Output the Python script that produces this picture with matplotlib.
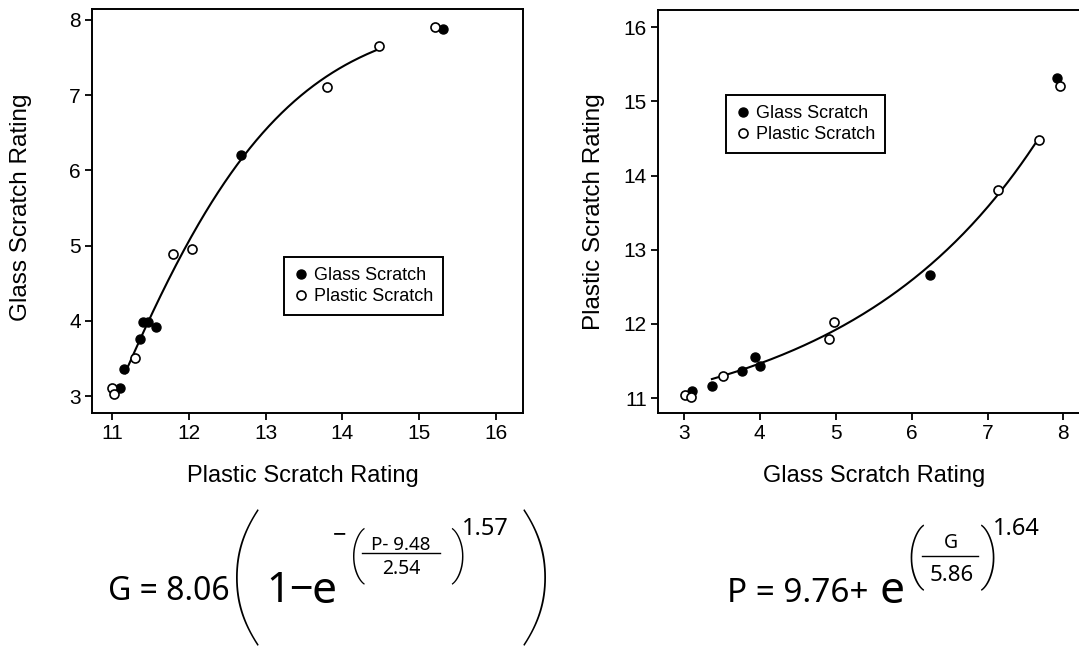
import numpy as np
import matplotlib
matplotlib.use("Agg")
import matplotlib.pyplot as plt
from matplotlib.lines import Line2D

plt.rcParams['font.family'] = ['Liberation Sans', 'DejaVu Sans']

# ---- data ----
# left panel: Glass rating (y) vs Plastic rating (x)
left_glass_x = [15.31, 12.68, 11.41, 11.47, 11.57, 11.36, 11.16, 11.10]
left_glass_y = [7.88, 6.21, 3.99, 3.99, 3.92, 3.76, 3.36, 3.10]
left_plastic_x = [15.21, 14.47, 13.80, 12.04, 11.79, 11.30, 11.00, 11.03]
left_plastic_y = [7.91, 7.65, 7.11, 4.96, 4.89, 3.50, 3.10, 3.03]

# right panel: Plastic rating (y) vs Glass rating (x)
right_glass_x = [7.92, 6.24, 3.94, 4.00, 3.77, 3.37, 3.11]
right_glass_y = [15.31, 12.66, 11.56, 11.44, 11.37, 11.17, 11.10]
right_plastic_x = [7.95, 7.68, 7.14, 4.98, 4.91, 3.51, 3.02, 3.10]
right_plastic_y = [15.20, 14.48, 13.81, 12.03, 11.80, 11.30, 11.04, 11.01]

# fitted curves (parameters from the printed equations)
g_scale, p_shift, p_div, g_pow = 8.06, 9.48, 2.54, 1.57
p_off, g_div, p_pow = 9.76, 5.86, 1.64
left_fit_range = (11.17, 14.47)
right_fit_range = (3.37, 7.68)

W, H = 1079, 660
fig = plt.figure(figsize=(W / 100, H / 100), dpi=100)


def fx(x):
    return x / W


def fy(y):
    return 1 - y / H


ax1 = fig.add_axes([fx(92), fy(413), (523 - 92) / W, (413 - 9) / H])
ax2 = fig.add_axes([fx(658), fy(413), (1090 - 658) / W, (413 - 10) / H])

pp = np.linspace(*left_fit_range, 200)
ax1.plot(pp, g_scale * (1 - np.exp(-((pp - p_shift) / p_div) ** g_pow)),
         color='black', lw=1.5, zorder=2)
gg = np.linspace(*right_fit_range, 200)
ax2.plot(gg, p_off + np.exp((gg / g_div) ** p_pow), color='black', lw=1.5, zorder=2)

for ax, gx, gy, px_, py_ in [(ax1, left_glass_x, left_glass_y, left_plastic_x, left_plastic_y),
                             (ax2, right_glass_x, right_glass_y, right_plastic_x, right_plastic_y)]:
    ax.plot(gx, gy, 'o', ms=6.5, mfc='black', mec='black', ls='none',
            label='Glass Scratch', zorder=3)
    ax.plot(px_, py_, 'o', ms=6.5, mfc='white', mec='black', mew=1.2, ls='none',
            label='Plastic Scratch', zorder=4)
    for s in ax.spines.values():
        s.set_linewidth(1.4)
    ax.tick_params(direction='out', length=5, width=1.3, labelsize=15, pad=3,
                   top=False, right=False)

ax1.set_xlim(10.74, 16.35)
ax1.set_ylim(2.774, 8.146)
ax1.set_xticks([11, 12, 13, 14, 15, 16])
ax1.set_yticks([3, 4, 5, 6, 7, 8])
ax2.set_xlim(2.66, 8.35)
ax2.set_ylim(10.80, 16.23)
ax2.set_xticks([3, 4, 5, 6, 7, 8])
ax2.set_yticks([11, 12, 13, 14, 15, 16])

ax1.set_xlabel('Plastic Scratch Rating', fontsize=17)
ax1.set_ylabel('Glass Scratch Rating', fontsize=17.5)
ax2.set_xlabel('Glass Scratch Rating', fontsize=17)
ax2.set_ylabel('Plastic Scratch Rating', fontsize=17.5)
for lab in (ax1.xaxis.label, ax1.yaxis.label, ax2.xaxis.label, ax2.yaxis.label):
    lab.set_va('center')
ax1.xaxis.set_label_coords(0.49, -0.156)
ax1.yaxis.set_label_coords(-0.164, 0.51)
ax2.xaxis.set_label_coords(0.5, -0.156)
ax2.yaxis.set_label_coords(-0.149, 0.5)

leg_kw = dict(loc='upper left', bbox_transform=fig.transFigure, borderaxespad=0,
              fancybox=False, edgecolor='black', framealpha=1, fontsize=13,
              handlelength=0.8, handletextpad=0.3, borderpad=0.55, labelspacing=0.25,
              numpoints=1)
l1 = ax1.legend(bbox_to_anchor=(fx(284), fy(257)), **leg_kw)
l2 = ax2.legend(bbox_to_anchor=(fx(726), fy(95)), **leg_kw)
for lg in (l1, l2):
    lg.get_frame().set_linewidth(1.4)
    lg.get_frame().set_boxstyle('square', pad=0)

# ---- equations ----
EQ = ['Noto Sans', 'DejaVu Sans']
PAR = ['Roboto', 'DejaVu Sans']
BIGPAR = ['Lato', 'Roboto', 'DejaVu Sans']


def t(x, y, s, size, ha='left', va='baseline', family=EQ, **kw):
    fig.text(fx(x), fy(y), s, fontsize=size, ha=ha, va=va, family=family, **kw)


def bar(x0, x1, y):
    fig.add_artist(Line2D([fx(x0), fx(x1)], [fy(y), fy(y)], color='black', lw=1.0))


# left: G = 8.06 (1 - e^-((P-9.48)/2.54)^1.57)
t(108, 600, 'G = 8.06', 23)
t(245, 585, '(', 112, ha='center', va='center', family=BIGPAR, fontweight=200)
t(266, 602, '1\u2212', 30)
t(312, 603, 'e', 32)
t(333, 541, '\u2212', 17)
t(357, 556, '(', 40, ha='center', va='center', family=PAR, fontweight=100)
t(401, 550, 'P- 9.48', 13.5, ha='center')
bar(362, 440, 553)
t(401, 574, '2.54', 14, ha='center')
t(459, 556, ')', 40, ha='center', va='center', family=PAR, fontweight=100)
t(462, 535, '1.57', 17)
t(536, 585, ')', 112, ha='center', va='center', family=BIGPAR, fontweight=200)

# right: P = 9.76 + e^((G/5.86)^1.64)
t(727, 602, 'P = 9.76+', 24)
t(879, 603, 'e', 32)
t(915, 558, '(', 46, ha='center', va='center', family=PAR, fontweight=100)
t(951, 548, 'G', 14, ha='center')
bar(922, 978, 556)
t(952, 581, '5.86', 16, ha='center')
t(989, 558, ')', 46, ha='center', va='center', family=PAR, fontweight=100)
t(993, 535, '1.64', 17)

fig.savefig('out.png', dpi=100)
